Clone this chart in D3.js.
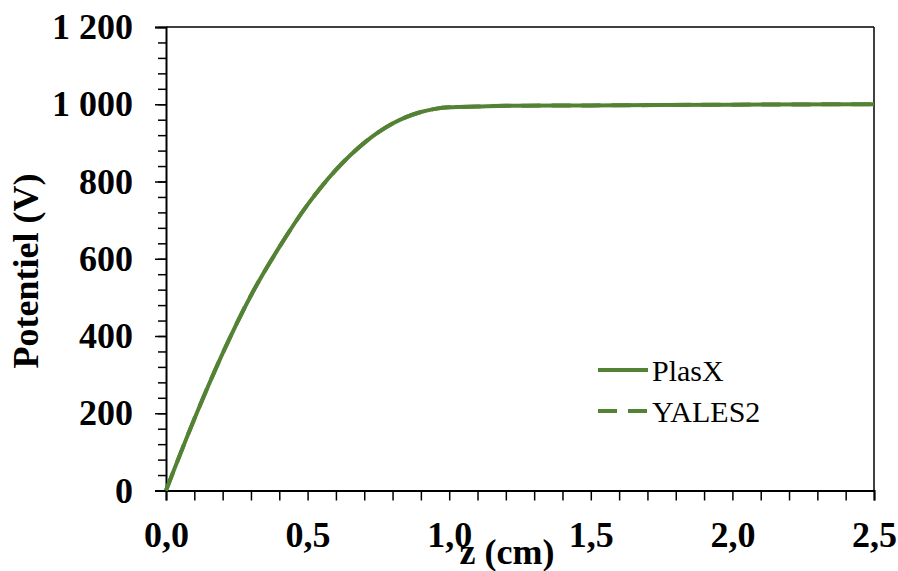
<!DOCTYPE html>
<html><head><meta charset="utf-8">
<script src="https://cdn.jsdelivr.net/npm/d3@7"></script>
<style>body{margin:0;background:#fff}svg{display:block}</style>
</head><body>
<svg id="c" width="898" height="571"></svg>
<script>
const zValues = [0,0.1,0.2,0.3,0.4,0.5,0.6,0.7,0.8,0.9,0.95,1.0,1.1,1.2,1.5,2.0,2.5];
const plasX   = [0,185,355,505,630,740,830,900,950,980,988,992,994,996,997,999,1000];
const yales2  = [0,185,355,505,630,740,830,900,950,980,988,992,994,996,997,999,1000];
const seriesNames = ["PlasX","YALES2"];
const xTickLabels = ["0,0","0,5","1,0","1,5","2,0","2,5"];
const yTickLabels = ["0","200","400","600","800","1 000","1 200"];

const svg = d3.select("#c");
const L=166, R=874, T=27, B=490.5;
const x = d3.scaleLinear().domain([0,2.5]).range([L,R]);
const y = d3.scaleLinear().domain([0,1200]).range([B,T]);
const green = "#548235";
const font = "'Liberation Serif','Times New Roman',serif";
const fs = 36;

// frame (top/right)
svg.append("line").attr("x1",L).attr("x2",R).attr("y1",T).attr("y2",T).attr("stroke","#000").attr("stroke-width",1.5);
svg.append("line").attr("x1",R).attr("x2",R).attr("y1",T).attr("y2",B).attr("stroke","#000").attr("stroke-width",1.5);

// y axis
const yMinor = d3.range(0,1201,40);
svg.append("g").attr("transform",`translate(${L},0)`)
  .call(d3.axisLeft(y).tickValues(yMinor).tickSize(8).tickFormat(""))
  .call(g=>g.select(".domain").remove())
  .call(g=>g.selectAll("line").attr("stroke","#000").attr("stroke-width",1.5));
const yAx = svg.append("g").attr("transform",`translate(${L},0)`)
  .call(d3.axisLeft(y).tickValues(d3.range(0,1201,200)).tickSize(11).tickPadding(22)
    .tickFormat((d,i)=>yTickLabels[i]));
yAx.select(".domain").attr("stroke","#000").attr("stroke-width",2);
yAx.selectAll("line").attr("stroke","#000").attr("stroke-width",1.5);
yAx.selectAll("text").attr("font-family",font).attr("font-weight","bold").attr("font-size",fs).attr("fill","#000");

// x axis
svg.append("g").attr("transform",`translate(0,${B})`)
  .call(d3.axisBottom(x).tickValues(d3.range(0,26).map(i=>i/10)).tickSize(10).tickFormat(""))
  .call(g=>g.select(".domain").attr("stroke","#000").attr("stroke-width",2))
  .call(g=>g.selectAll("line").attr("stroke","#000").attr("stroke-width",1.5));
const xAx = svg.append("g").attr("transform",`translate(0,${B})`)
  .call(d3.axisBottom(x).tickValues([0,0.5,1,1.5,2,2.5]).tickSize(0).tickPadding(31)
    .tickFormat((d,i)=>xTickLabels[i]));
xAx.select(".domain").remove();
xAx.selectAll("text").attr("font-family",font).attr("font-weight","bold").attr("font-size",fs).attr("fill","#000");

// titles
svg.append("text").attr("x",507).attr("y",564).attr("text-anchor","middle")
  .attr("font-family",font).attr("font-weight","bold").attr("font-size",fs).text("z (cm)");
svg.append("text").attr("transform","translate(38,271) rotate(-90)").attr("text-anchor","middle")
  .attr("font-family",font).attr("font-weight","bold").attr("font-size",fs).text("Potentiel (V)");

// lines
const line = d3.line().x((d,i)=>x(zValues[i])).y(d=>y(d)).curve(d3.curveMonotoneX);
svg.append("path").datum(plasX).attr("d",line).attr("fill","none").attr("stroke",green).attr("stroke-width",4);
svg.append("path").datum(yales2).attr("d",line).attr("fill","none").attr("stroke",green).attr("stroke-width",4).attr("stroke-dasharray","19,11");

// legend
const leg = svg.append("g");
seriesNames.forEach((n,i)=>{
  const yy = 370 + i*41;
  leg.append("line").attr("x1",598).attr("x2",648).attr("y1",yy).attr("y2",yy)
    .attr("stroke",green).attr("stroke-width",4).attr("stroke-dasharray", i===1 ? "19,11" : null);
  leg.append("text").attr("x",652).attr("y",yy).attr("dy","0.35em")
    .attr("font-family",font).attr("font-size",30).attr("fill","#000").text(n);
});
</script>
</body></html>
